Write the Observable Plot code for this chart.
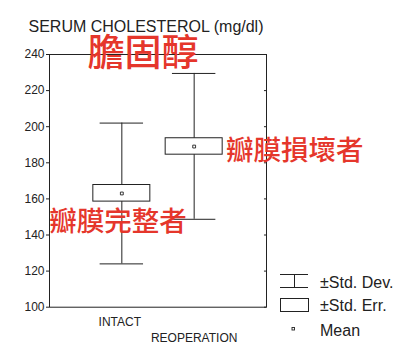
<!DOCTYPE html>
<html>
<head>
<meta charset="utf-8">
<script src="https://cdn.jsdelivr.net/npm/d3@7"></script>
<script src="https://cdn.jsdelivr.net/npm/@observablehq/plot@0.6"></script>
<style>
  html, body { margin: 0; padding: 0; background: #fff; }
  #wrap { position: relative; width: 400px; height: 354px; background: #fff; overflow: hidden; }
  #wrap > svg { position: absolute; left: 0; top: 0; }
  #overlay { pointer-events: none; }
</style>
</head>
<body>
<div id="wrap"></div>
<script>
// ---- data ----
const groups = ["INTACT", "REOPERATION"];
const means  = [163, 189];
const seLow  = [158.5, 184.5];
const seHigh = [167.7, 193.6];
const sdLow  = [124, 148.7];
const sdHigh = [202, 229.5];
const yTicks = [100, 120, 140, 160, 180, 200, 220, 240];

const titleText = "SERUM CHOLESTEROL (mg/dl)";
const legendLabels = ["±Std. Dev.", "±Std. Err.", "Mean"];
const annoTitle = "膽固醇";
const annoReop = "瓣膜損壞者";
const annoIntact = "瓣膜完整者";

const data = groups.map((g, i) => ({
  g, pos: i + 1, mean: means[i],
  seLow: seLow[i], seHigh: seHigh[i],
  sdLow: sdLow[i], sdHigh: sdHigh[i]
}));

const ink = "#222";
const red = "#e5362b";
const cjk = "'Noto Sans CJK TC', 'Noto Sans CJK SC', sans-serif";
const latin = "'Liberation Sans', Arial, Helvetica, sans-serif";

const chart = Plot.plot({
  width: 400,
  height: 354,
  marginLeft: 49,
  marginRight: 134,
  marginTop: 54,
  marginBottom: 47.3,
  x: { domain: [0, 3], axis: null },
  y: { domain: [100, 240] },
  style: { fontFamily: latin, fontSize: "12px", color: ink, background: "white" },
  marks: [
    Plot.frame({ stroke: ink, strokeWidth: 1 }),
    Plot.axisY({ ticks: yTicks, tickSize: 3, tickPadding: 2, label: null, fontSize: 12, stroke: ink, fill: ink }),
    // small inward ticks on the right edge of the frame
    Plot.ruleY(yTicks, { y: d => d, x1: 2.972, x2: 3, stroke: ink }),
    // SD whiskers
    Plot.ruleX(data, { x: "pos", y1: "sdLow", y2: "sdHigh", stroke: ink, strokeWidth: 1 }),
    Plot.ruleY(data, { y: "sdHigh", x1: d => d.pos - 0.3, x2: d => d.pos + 0.3, stroke: ink }),
    Plot.ruleY(data, { y: "sdLow", x1: d => d.pos - 0.3, x2: d => d.pos + 0.3, stroke: ink }),
    // SE boxes
    Plot.rect(data, { x1: d => d.pos - 0.394, x2: d => d.pos + 0.394, y1: "seLow", y2: "seHigh", fill: "white", stroke: ink, strokeWidth: 1 }),
    // mean
    Plot.dot(data, { x: "pos", y: "mean", symbol: "square", r: 1.6, stroke: ink, strokeWidth: 0.9, fill: "white" }),
    // staggered category labels
    Plot.text(data.filter((d, i) => i === 0), { x: "pos", text: "g", frameAnchor: "bottom", dy: 15, dx: -2, fontSize: 12, fill: ink, lineAnchor: "middle" }),
    Plot.text(data.filter((d, i) => i === 1), { x: "pos", text: "g", frameAnchor: "bottom", dy: 30.5, fontSize: 12, fill: ink, lineAnchor: "middle" }),
    // red annotations
    Plot.text([annoTitle], { x: 0.525, y: 240.3, text: d => d, textAnchor: "start", lineAnchor: "middle", fontSize: 37, fontWeight: 500, fill: red, fontFamily: cjk }),
    Plot.text([annoReop], { x: 2.44, y: 186.3, text: d => d, textAnchor: "start", lineAnchor: "middle", fontSize: 27.5, fontWeight: 500, fill: red, fontFamily: cjk }),
    Plot.text([annoIntact], { x: -0.005, y: 147.0, text: d => d, textAnchor: "start", lineAnchor: "middle", fontSize: 27.5, fontWeight: 500, fill: red, fontFamily: cjk })
  ]
});

const wrap = document.getElementById("wrap");
wrap.appendChild(chart);

// overlay: title + legend
const ns = "http://www.w3.org/2000/svg";
const ov = d3.select(wrap).append("svg")
  .attr("id", "overlay")
  .attr("width", 400).attr("height", 354)
  .attr("xmlns", ns);

ov.append("text")
  .attr("x", 28.5).attr("y", 31.5)
  .attr("font-family", latin).attr("font-size", 16)
  .attr("fill", ink)
  .text(titleText);

const lg = ov.append("g").attr("stroke", ink).attr("fill", "none").attr("stroke-width", 1);
// std dev symbol
lg.append("line").attr("x1", 280).attr("x2", 308).attr("y1", 274.5).attr("y2", 274.5);
lg.append("line").attr("x1", 280).attr("x2", 308).attr("y1", 287.5).attr("y2", 287.5);
lg.append("line").attr("x1", 294.5).attr("x2", 294.5).attr("y1", 274.5).attr("y2", 287.5);
// std err box
lg.append("rect").attr("x", 280.5).attr("y", 298.5).attr("width", 28).attr("height", 13).attr("fill", "white");
// mean
lg.append("rect").attr("x", 292).attr("y", 327.5).attr("width", 2.5).attr("height", 2.5).attr("fill", "white").attr("stroke-width", 0.9);

const ty = [287.5, 310.5, 335.5];
legendLabels.forEach((t, i) => {
  ov.append("text")
    .attr("x", 320).attr("y", ty[i])
    .attr("font-family", latin).attr("font-size", 16)
    .attr("fill", ink)
    .text(t);
});
</script>
</body>
</html>
